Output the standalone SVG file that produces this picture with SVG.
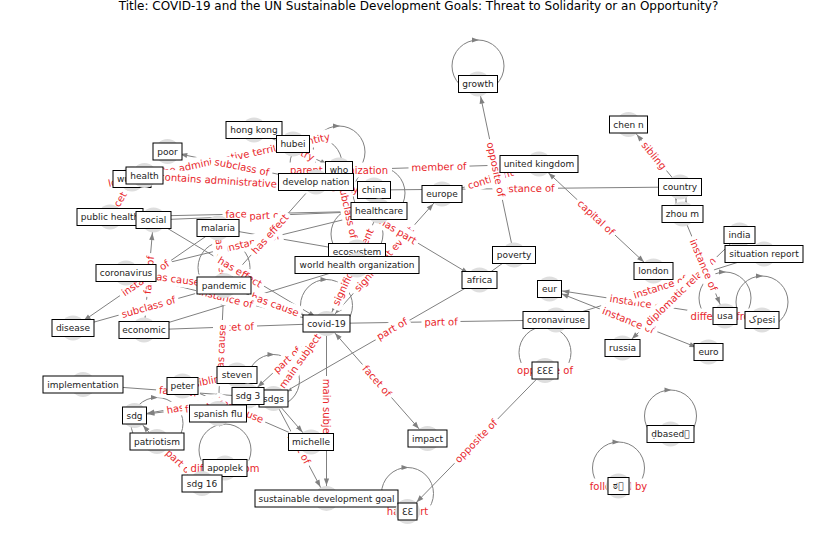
<svg xmlns="http://www.w3.org/2000/svg" width="837" height="559" viewBox="0 0 837 559">
<style>
  .e { stroke: #808080; stroke-width: 1; fill: none; }
  .loop { stroke: #808080; stroke-width: 1; fill: none; }
  .lh { fill: #808080; }
  .el rect { fill: #ffffff; }
  .el text { font-family: "DejaVu Sans", sans-serif; font-size: 10px; fill: #e8262b; text-anchor: middle; }
  .node circle { fill: #dedede; }
  .node rect { fill: #ffffff; stroke: #000000; stroke-width: 1; }
  .node text { font-family: "DejaVu Sans", sans-serif; font-size: 9px; fill: #222222; text-anchor: middle; }
  .title { font-family: "DejaVu Sans", sans-serif; font-size: 12px; fill: #000000; text-anchor: middle; }
</style>
<defs>
  <marker id="ah" viewBox="-22 -5 22 10" refX="0" refY="0" markerWidth="22" markerHeight="10" markerUnits="userSpaceOnUse" orient="auto-start-reverse">
    <path d="M-13,0 L-20,-2.6 L-20,2.6 Z" fill="#808080"/>
  </marker>
</defs>
<rect width="837" height="559" fill="#ffffff"/>
<text class="title" x="418.5" y="10">Title: COVID-19 and the UN Sustainable Development Goals: Threat to Solidarity or an Opportunity?</text>

<!-- connectors -->
<g id="connectors">
  <line class="e" x1="514" y1="255" x2="478" y2="84" marker-end="url(#ah)"/>
  <line class="e" x1="680" y1="187" x2="628.5" y2="124.5" marker-end="url(#ah)"/>
  <line class="e" x1="653.5" y1="271" x2="539" y2="164" marker-start="url(#ah)" marker-end="url(#ah)"/>
  <line class="e" x1="676" y1="187" x2="676" y2="214" marker-end="url(#ah)"/>
  <line class="e" x1="686" y1="214" x2="686" y2="187" marker-end="url(#ah)"/>
  <line class="e" x1="682.5" y1="214" x2="725" y2="316" marker-end="url(#ah)"/>
  <line class="e" x1="739.5" y1="235" x2="622.5" y2="348" marker-end="url(#ah)"/>
  <line class="e" x1="556" y1="320" x2="764" y2="254" marker-end="url(#ah)"/>
  <line class="e" x1="725" y1="316" x2="549.5" y2="289" marker-end="url(#ah)"/>
  <line class="e" x1="708.5" y1="352" x2="549.5" y2="289" marker-start="url(#ah)" marker-end="url(#ah)"/>
  <line class="e" x1="556" y1="320" x2="326.5" y2="323.5" marker-end="url(#ah)"/>
  <line class="e" x1="479.5" y1="280" x2="273.5" y2="398.5" marker-end="url(#ah)"/>
  <line class="e" x1="326.5" y1="323.5" x2="427.5" y2="438.5" marker-start="url(#ah)" marker-end="url(#ah)"/>
  <line class="e" x1="326.5" y1="323.5" x2="326.5" y2="498.5" marker-end="url(#ah)"/>
  <line class="e" x1="545" y1="370.5" x2="407.5" y2="511.5" marker-end="url(#ah)"/>
  <line class="e" x1="273.5" y1="398.5" x2="326.5" y2="498.5" marker-end="url(#ah)"/>
  <line class="e" x1="273.5" y1="398.5" x2="311" y2="442" marker-end="url(#ah)"/>
  <line class="e" x1="182.5" y1="386" x2="311" y2="442" marker-end="url(#ah)"/>
  <line class="e" x1="248" y1="396" x2="326.5" y2="323.5" marker-start="url(#ah)" marker-end="url(#ah)"/>
  <line class="e" x1="273.5" y1="398.5" x2="326.5" y2="323.5" marker-end="url(#ah)"/>
  <line class="e" x1="248" y1="396" x2="134.5" y2="415.5" marker-end="url(#ah)"/>
  <line class="e" x1="273.5" y1="398.5" x2="134.5" y2="415.5" marker-end="url(#ah)"/>
  <line class="e" x1="182.5" y1="386" x2="237" y2="375"/>
  <line class="e" x1="83" y1="384.5" x2="273.5" y2="398.5" marker-end="url(#ah)"/>
  <line class="e" x1="157" y1="441.5" x2="202" y2="483.5" marker-end="url(#ah)"/>
  <line class="e" x1="157" y1="441.5" x2="134.5" y2="415.5" marker-end="url(#ah)"/>
  <line class="e" x1="224" y1="285.5" x2="218" y2="413.5" marker-start="url(#ah)" marker-end="url(#ah)"/>
  <line class="e" x1="218" y1="228" x2="224" y2="285.5" marker-end="url(#ah)"/>
  <line class="e" x1="126" y1="273" x2="224" y2="285.5" marker-end="url(#ah)"/>
  <line class="e" x1="218" y1="228" x2="73" y2="328" marker-end="url(#ah)"/>
  <line class="e" x1="153.5" y1="220" x2="144" y2="330" marker-start="url(#ah)" marker-end="url(#ah)"/>
  <line class="e" x1="73" y1="328" x2="224" y2="285.5" marker-end="url(#ah)"/>
  <line class="e" x1="144" y1="330" x2="326.5" y2="323.5" marker-end="url(#ah)"/>
  <line class="e" x1="126" y1="273" x2="326.5" y2="323.5" marker-end="url(#ah)"/>
  <line class="e" x1="224" y1="285.5" x2="326.5" y2="323.5" marker-end="url(#ah)"/>
  <line class="e" x1="153.5" y1="220" x2="326.5" y2="323.5" marker-end="url(#ah)"/>
  <line class="e" x1="316" y1="182" x2="224" y2="285.5" marker-end="url(#ah)"/>
  <line class="e" x1="110" y1="217" x2="379" y2="211" marker-end="url(#ah)"/>
  <line class="e" x1="153.5" y1="220" x2="379" y2="211" marker-end="url(#ah)"/>
  <line class="e" x1="126" y1="273" x2="379" y2="211" marker-end="url(#ah)"/>
  <line class="e" x1="144" y1="330" x2="357" y2="265" marker-end="url(#ah)"/>
  <line class="e" x1="379" y1="211" x2="326.5" y2="323.5" marker-end="url(#ah)"/>
  <line class="e" x1="442" y1="194" x2="326.5" y2="323.5" marker-start="url(#ah)" marker-end="url(#ah)"/>
  <line class="e" x1="316" y1="182" x2="479.5" y2="280" marker-end="url(#ah)"/>
  <line class="e" x1="374" y1="190" x2="680" y2="187" marker-end="url(#ah)"/>
  <line class="e" x1="339" y1="170" x2="539" y2="164" marker-end="url(#ah)"/>
  <line class="e" x1="539" y1="164" x2="442" y2="194" marker-end="url(#ah)"/>
  <line class="e" x1="316" y1="182" x2="167.5" y2="151.5" marker-end="url(#ah)"/>
  <line class="e" x1="144.5" y1="175.5" x2="374" y2="190" marker-end="url(#ah)"/>
  <line class="e" x1="144.5" y1="175.5" x2="293" y2="144" marker-end="url(#ah)"/>
  <line class="e" x1="132" y1="179" x2="110" y2="217" marker-end="url(#ah)"/>
  <line class="e" x1="254" y1="130" x2="339" y2="170" marker-end="url(#ah)"/>
  <line class="e" x1="339" y1="170" x2="357" y2="252" marker-end="url(#ah)"/>
  <line class="e" x1="218" y1="228" x2="357" y2="252" marker-end="url(#ah)"/>
  <line class="e" x1="479.5" y1="280" x2="514" y2="255"/>

  <!-- self-loops: circle above the node, arrowhead at the top -->
  <circle class="loop" cx="478" cy="66" r="26"/><path class="lh" d="M479,40 l-7,-2.6 v5.2 z"/>
  <circle class="loop" cx="339" cy="152" r="26"/><path class="lh" d="M340,126 l-7,-2.6 v5.2 z"/>
  <circle class="loop" cx="316" cy="164" r="26"/><path class="lh" d="M317,138 l-7,-2.6 v5.2 z"/>
  <circle class="loop" cx="379" cy="193" r="26"/><path class="lh" d="M380,167 l-7,-2.6 v5.2 z"/>
  <circle class="loop" cx="357" cy="234" r="26"/><path class="lh" d="M358,208 l-7,-2.6 v5.2 z"/>
  <circle class="loop" cx="224" cy="267.5" r="26"/><path class="lh" d="M225,241.5 l-7,-2.6 v5.2 z"/>
  <circle class="loop" cx="326.5" cy="305.5" r="26"/><path class="lh" d="M327.5,279.5 l-7,-2.6 v5.2 z"/>
  <circle class="loop" cx="273.5" cy="380.5" r="26"/><path class="lh" d="M274.5,354.5 l-7,-2.6 v5.2 z"/>
  <circle class="loop" cx="157" cy="423.5" r="26"/><path class="lh" d="M158,397.5 l-7,-2.6 v5.2 z"/>
  <circle class="loop" cx="225" cy="450" r="26"/><path class="lh" d="M226,424 l-7,-2.6 v5.2 z"/>
  <circle class="loop" cx="545" cy="352.5" r="26"/><path class="lh" d="M546,326.5 l-7,-2.6 v5.2 z"/>
  <circle class="loop" cx="407.5" cy="493.5" r="26"/><path class="lh" d="M408.5,467.5 l-7,-2.6 v5.2 z"/>
  <circle class="loop" cx="618.5" cy="468" r="26"/><path class="lh" d="M619.5,442 l-7,-2.6 v5.2 z"/>
  <circle class="loop" cx="670.5" cy="416" r="26"/><path class="lh" d="M671.5,390 l-7,-2.6 v5.2 z"/>
  <circle class="loop" cx="725" cy="298" r="26"/><path class="lh" d="M726,272 l-7,-2.6 v5.2 z"/>
  <circle class="loop" cx="762" cy="302" r="26"/><path class="lh" d="M763,276 l-7,-2.6 v5.2 z"/>
</g>

<!-- edge labels -->
<g id="edge-labels">
  <g class="el" transform="translate(219,160) rotate(-12)"><rect x="-116" y="-7.5" width="232" height="15" rx="3"/><text y="3.5">located in the administrative territorial entity</text></g>
  <g class="el" transform="translate(259,183) rotate(3.6)"><rect x="-103" y="-7.5" width="206" height="15" rx="3"/><text y="3.5">contains administrative territorial entity</text></g>
  <g class="el" transform="translate(242,167) rotate(11.5)"><rect x="-31" y="-7.5" width="62" height="15" rx="3"/><text y="3.5">subclass of</text></g>
  <g class="el" transform="translate(296.5,150) rotate(25.2)"><rect x="-22" y="-7.5" width="44" height="15" rx="3"/><text y="3.5">country</text></g>
  <g class="el" transform="translate(121,198) rotate(-60)"><rect x="-22" y="-7.5" width="44" height="15" rx="3"/><text y="3.5">facet of</text></g>
  <g class="el" transform="translate(348,211) rotate(77.6)"><rect x="-31" y="-7.5" width="62" height="15" rx="3"/><text y="3.5">subclass of</text></g>
  <g class="el" transform="translate(252.5,242) rotate(-13.8)"><rect x="-31" y="-7.5" width="62" height="15" rx="3"/><text y="3.5">instance of</text></g>
  <g class="el" transform="translate(244.5,214) rotate(-1.3)"><rect x="-22" y="-7.5" width="44" height="15" rx="3"/><text y="3.5">facet of</text></g>
  <g class="el" transform="translate(266,215.5) rotate(-2.3)"><rect x="-19.5" y="-7.5" width="39" height="15" rx="3"/><text y="3.5">part of</text></g>
  <g class="el" transform="translate(270,234) rotate(-48.2)"><rect x="-28" y="-7.5" width="56" height="15" rx="3"/><text y="3.5">has effect</text></g>
  <g class="el" transform="translate(221,257) rotate(84)"><rect x="-28" y="-7.5" width="56" height="15" rx="3"/><text y="3.5">has effect</text></g>
  <g class="el" transform="translate(240,272) rotate(31)"><rect x="-28" y="-7.5" width="56" height="15" rx="3"/><text y="3.5">has effect</text></g>
  <g class="el" transform="translate(149,275) rotate(-85)"><rect x="-22" y="-7.5" width="44" height="15" rx="3"/><text y="3.5">facet of</text></g>
  <g class="el" transform="translate(145.5,278) rotate(-34.6)"><rect x="-31" y="-7.5" width="62" height="15" rx="3"/><text y="3.5">instance of</text></g>
  <g class="el" transform="translate(175,279) rotate(7.3)"><rect x="-28" y="-7.5" width="56" height="15" rx="3"/><text y="3.5">has cause</text></g>
  <g class="el" transform="translate(148.5,307) rotate(-15.7)"><rect x="-31" y="-7.5" width="62" height="15" rx="3"/><text y="3.5">subclass of</text></g>
  <g class="el" transform="translate(275,304.5) rotate(20.4)"><rect x="-28" y="-7.5" width="56" height="15" rx="3"/><text y="3.5">has cause</text></g>
  <g class="el" transform="translate(226,298) rotate(14.2)"><rect x="-31" y="-7.5" width="62" height="15" rx="3"/><text y="3.5">instance of</text></g>
  <g class="el" transform="translate(235,327) rotate(-2)"><rect x="-22" y="-7.5" width="44" height="15" rx="3"/><text y="3.5">facet of</text></g>
  <g class="el" transform="translate(221,349.5) rotate(-87.3)"><rect x="-28" y="-7.5" width="56" height="15" rx="3"/><text y="3.5">has cause</text></g>
  <g class="el" transform="translate(353,267) rotate(-64.8)"><rect x="-46" y="-7.5" width="92" height="15" rx="3"/><text y="3.5">significant event</text></g>
  <g class="el" transform="translate(384,259) rotate(-48.1)"><rect x="-46" y="-7.5" width="92" height="15" rx="3"/><text y="3.5">significant event</text></g>
  <g class="el" transform="translate(398,231) rotate(31)"><rect x="-23.5" y="-7.5" width="47" height="15" rx="3"/><text y="3.5">has part</text></g>
  <g class="el" transform="translate(527,188.5) rotate(-0.6)"><rect x="-31" y="-7.5" width="62" height="15" rx="3"/><text y="3.5">instance of</text></g>
  <g class="el" transform="translate(490.5,179) rotate(-17.2)"><rect x="-27" y="-7.5" width="54" height="15" rx="3"/><text y="3.5">continent</text></g>
  <g class="el" transform="translate(439,167) rotate(-1.7)"><rect x="-30.5" y="-7.5" width="61" height="15" rx="3"/><text y="3.5">member of</text></g>
  <g class="el" transform="translate(496,169.5) rotate(78.1)"><rect x="-31" y="-7.5" width="62" height="15" rx="3"/><text y="3.5">opposite of</text></g>
  <g class="el" transform="translate(339,170)"><rect x="-53" y="-7.5" width="106" height="15" rx="3"/><text y="3.5">parent organization</text></g>
  <g class="el" transform="translate(654,155.5) rotate(50.5)"><rect x="-19.5" y="-7.5" width="39" height="15" rx="3"/><text y="3.5">sibling</text></g>
  <g class="el" transform="translate(596,217.5) rotate(43.2)"><rect x="-26" y="-7.5" width="52" height="15" rx="3"/><text y="3.5">capital of</text></g>
  <g class="el" transform="translate(637,302.5) rotate(8.7)"><rect x="-31" y="-7.5" width="62" height="15" rx="3"/><text y="3.5">instance of</text></g>
  <g class="el" transform="translate(628.5,320.5) rotate(21.6)"><rect x="-31" y="-7.5" width="62" height="15" rx="3"/><text y="3.5">instance of</text></g>
  <g class="el" transform="translate(660,287) rotate(-17.6)"><rect x="-31" y="-7.5" width="62" height="15" rx="3"/><text y="3.5">instance of</text></g>
  <g class="el" transform="translate(680.5,291.5) rotate(-44)"><rect x="-50" y="-7.5" width="100" height="15" rx="3"/><text y="3.5">diplomatic relation</text></g>
  <g class="el" transform="translate(703.5,265) rotate(67.1)"><rect x="-31" y="-7.5" width="62" height="15" rx="3"/><text y="3.5">instance of</text></g>
  <g class="el" transform="translate(725,316)"><rect x="-38" y="-7.5" width="76" height="15" rx="3"/><text y="3.5">different from</text></g>
  <g class="el" transform="translate(441,322) rotate(-0.9)"><rect x="-19.5" y="-7.5" width="39" height="15" rx="3"/><text y="3.5">part of</text></g>
  <g class="el" transform="translate(392,329) rotate(-30.1)"><rect x="-19.5" y="-7.5" width="39" height="15" rx="3"/><text y="3.5">part of</text></g>
  <g class="el" transform="translate(377,381) rotate(48.7)"><rect x="-22" y="-7.5" width="44" height="15" rx="3"/><text y="3.5">facet of</text></g>
  <g class="el" transform="translate(326.5,411) rotate(90)"><rect x="-35" y="-7.5" width="70" height="15" rx="3"/><text y="3.5">main subject</text></g>
  <g class="el" transform="translate(476,441) rotate(-45.7)"><rect x="-31" y="-7.5" width="62" height="15" rx="3"/><text y="3.5">opposite of</text></g>
  <g class="el" transform="translate(545,370.5)"><rect x="-31" y="-7.5" width="62" height="15" rx="3"/><text y="3.5">opposite of</text></g>
  <g class="el" transform="translate(300,448.5) rotate(62)"><rect x="-19.5" y="-7.5" width="39" height="15" rx="3"/><text y="3.5">part of</text></g>
  <g class="el" transform="translate(240,410) rotate(23.5)"><rect x="-28" y="-7.5" width="56" height="15" rx="3"/><text y="3.5">has cause</text></g>
  <g class="el" transform="translate(287,360) rotate(-42.7)"><rect x="-19.5" y="-7.5" width="39" height="15" rx="3"/><text y="3.5">part of</text></g>
  <g class="el" transform="translate(300,361) rotate(-54.6)"><rect x="-35" y="-7.5" width="70" height="15" rx="3"/><text y="3.5">main subject</text></g>
  <g class="el" transform="translate(191,406) rotate(-9.8)"><rect x="-28" y="-7.5" width="56" height="15" rx="3"/><text y="3.5">has effect</text></g>
  <g class="el" transform="translate(204,407) rotate(-7)"><rect x="-22" y="-7.5" width="44" height="15" rx="3"/><text y="3.5">facet of</text></g>
  <g class="el" transform="translate(178,391.5) rotate(4.2)"><rect x="-22" y="-7.5" width="44" height="15" rx="3"/><text y="3.5">facet of</text></g>
  <g class="el" transform="translate(210,380.5) rotate(-11.4)"><rect x="-19.5" y="-7.5" width="39" height="15" rx="3"/><text y="3.5">sibling</text></g>
  <g class="el" transform="translate(179.5,462.5) rotate(43)"><rect x="-19.5" y="-7.5" width="39" height="15" rx="3"/><text y="3.5">part of</text></g>
  <g class="el" transform="translate(225,468)"><rect x="-38" y="-7.5" width="76" height="15" rx="3"/><text y="3.5">different from</text></g>
  <g class="el" transform="translate(407.5,511.5)"><rect x="-23.5" y="-7.5" width="47" height="15" rx="3"/><text y="3.5">has part</text></g>
  <g class="el" transform="translate(618.5,486)"><rect x="-32" y="-7.5" width="64" height="15" rx="3"/><text y="3.5">followed by</text></g>
</g>

<!-- nodes -->
<g id="nodes">
  <g id="n-growth" class="node"><circle cx="478" cy="84" r="12.5"/><rect x="458.5" y="75.5" width="39" height="17"/><text x="478" y="87.3">growth</text></g>
  <g id="n-chen-n" class="node"><circle cx="628.5" cy="124.5" r="12.5"/><rect x="609.5" y="116" width="38" height="17"/><text x="628.5" y="127.8">chen n</text></g>
  <g id="n-united-kingdom" class="node"><circle cx="539" cy="164" r="12.5"/><rect x="500" y="155.5" width="78" height="17"/><text x="539" y="167.3">united kingdom</text></g>
  <g id="n-hong-kong" class="node"><circle cx="254" cy="130" r="12.5"/><rect x="226" y="121.5" width="56" height="17"/><text x="254" y="133.3">hong kong</text></g>
  <g id="n-hubei" class="node"><circle cx="293" cy="144" r="12.5"/><rect x="276.5" y="135.5" width="33" height="17"/><text x="293" y="147.3">hubei</text></g>
  <g id="n-poor" class="node"><circle cx="167.5" cy="151.5" r="12.5"/><rect x="153" y="143" width="29" height="17"/><text x="167.5" y="154.8">poor</text></g>
  <g id="n-who" class="node"><circle cx="339" cy="170" r="12.5"/><rect x="325.5" y="161.5" width="27" height="17"/><text x="339" y="173.3">who</text></g>
  <g id="n-wuhan" class="node"><circle cx="132" cy="179" r="12.5"/><rect x="113" y="170.5" width="38" height="17"/><text x="132" y="182.3">wuhan</text></g>
  <g id="n-health" class="node"><circle cx="144.5" cy="175.5" r="12.5"/><rect x="126" y="167" width="37" height="17"/><text x="144.5" y="178.8">health</text></g>
  <g id="n-develop-nation" class="node"><circle cx="316" cy="182" r="12.5"/><rect x="278.5" y="173.5" width="75" height="17"/><text x="316" y="185.3">develop nation</text></g>
  <g id="n-china" class="node"><circle cx="374" cy="190" r="12.5"/><rect x="357.5" y="181.5" width="33" height="17"/><text x="374" y="193.3">china</text></g>
  <g id="n-europe" class="node"><circle cx="442" cy="194" r="12.5"/><rect x="422" y="185.5" width="40" height="17"/><text x="442" y="197.3">europe</text></g>
  <g id="n-country" class="node"><circle cx="680" cy="187" r="12.5"/><rect x="658.5" y="178.5" width="43" height="17"/><text x="680" y="190.3">country</text></g>
  <g id="n-zhou-m" class="node"><circle cx="682.5" cy="214" r="12.5"/><rect x="662" y="205.5" width="41" height="17"/><text x="682.5" y="217.3">zhou m</text></g>
  <g id="n-healthcare" class="node"><circle cx="379" cy="211" r="12.5"/><rect x="351" y="202.5" width="56" height="17"/><text x="379" y="214.3">healthcare</text></g>
  <g id="n-public-health" class="node"><circle cx="110" cy="217" r="12.5"/><rect x="77" y="208.5" width="66" height="17"/><text x="110" y="220.3">public health</text></g>
  <g id="n-social" class="node"><circle cx="153.5" cy="220" r="12.5"/><rect x="136" y="211.5" width="35" height="17"/><text x="153.5" y="223.3">social</text></g>
  <g id="n-malaria" class="node"><circle cx="218" cy="228" r="12.5"/><rect x="197" y="219.5" width="42" height="17"/><text x="218" y="231.3">malaria</text></g>
  <g id="n-india" class="node"><circle cx="739.5" cy="235" r="12.5"/><rect x="724" y="226.5" width="31" height="17"/><text x="739.5" y="238.3">india</text></g>
  <g id="n-ecosystem" class="node"><circle cx="357" cy="252" r="12.5"/><rect x="328.5" y="243.5" width="57" height="17"/><text x="357" y="255.3">ecosystem</text></g>
  <g id="n-situation-report" class="node"><circle cx="764" cy="254" r="12.5"/><rect x="725" y="245.5" width="78" height="17"/><text x="764" y="257.3">situation report</text></g>
  <g id="n-poverty" class="node"><circle cx="514" cy="255" r="12.5"/><rect x="492.5" y="246.5" width="43" height="17"/><text x="514" y="258.3">poverty</text></g>
  <g id="n-world-health-organization" class="node"><circle cx="357" cy="265" r="12.5"/><rect x="295" y="256.5" width="124" height="17"/><text x="357" y="268.3">world health organization</text></g>
  <g id="n-coronavirus" class="node"><circle cx="126" cy="273" r="12.5"/><rect x="96" y="264.5" width="60" height="17"/><text x="126" y="276.3">coronavirus</text></g>
  <g id="n-london" class="node"><circle cx="653.5" cy="271" r="12.5"/><rect x="634" y="262.5" width="39" height="17"/><text x="653.5" y="274.3">london</text></g>
  <g id="n-africa" class="node"><circle cx="479.5" cy="280" r="12.5"/><rect x="462" y="271.5" width="35" height="17"/><text x="479.5" y="283.3">africa</text></g>
  <g id="n-pandemic" class="node"><circle cx="224" cy="285.5" r="12.5"/><rect x="197" y="277" width="54" height="17"/><text x="224" y="288.8">pandemic</text></g>
  <g id="n-eur" class="node"><circle cx="549.5" cy="289" r="12.5"/><rect x="537.5" y="280.5" width="24" height="17"/><text x="549.5" y="292.3">eur</text></g>
  <g id="n-coronaviruse" class="node"><circle cx="556" cy="320" r="12.5"/><rect x="523" y="311.5" width="66" height="17"/><text x="556" y="323.3">coronaviruse</text></g>
  <g id="n-usa" class="node"><circle cx="725" cy="316" r="12.5"/><rect x="713" y="307.5" width="24" height="17"/><text x="725" y="319.3">usa</text></g>
  <g id="n-kpesi" class="node"><circle cx="762" cy="320" r="12.5"/><rect x="745" y="311.5" width="34" height="17"/><text x="762" y="323.3">کpesi</text></g>
  <g id="n-disease" class="node"><circle cx="73" cy="328" r="12.5"/><rect x="52" y="319.5" width="42" height="17"/><text x="73" y="331.3">disease</text></g>
  <g id="n-economic" class="node"><circle cx="144" cy="330" r="12.5"/><rect x="119" y="321.5" width="50" height="17"/><text x="144" y="333.3">economic</text></g>
  <g id="n-covid-19" class="node"><circle cx="326.5" cy="323.5" r="12.5"/><rect x="303" y="315" width="47" height="17"/><text x="326.5" y="326.8">covid-19</text></g>
  <g id="n-russia" class="node"><circle cx="622.5" cy="348" r="12.5"/><rect x="605" y="339.5" width="35" height="17"/><text x="622.5" y="351.3">russia</text></g>
  <g id="n-euro" class="node"><circle cx="708.5" cy="352" r="12.5"/><rect x="694" y="343.5" width="29" height="17"/><text x="708.5" y="355.3">euro</text></g>
  <g id="n-eee" class="node"><circle cx="545" cy="370.5" r="12.5"/><rect x="532" y="362" width="26" height="17"/><text x="545" y="373.8">ƐƐƐ</text></g>
  <g id="n-implementation" class="node"><circle cx="83" cy="384.5" r="12.5"/><rect x="43" y="376" width="80" height="17"/><text x="83" y="387.8">implementation</text></g>
  <g id="n-steven" class="node"><circle cx="237" cy="375" r="12.5"/><rect x="217" y="366.5" width="40" height="17"/><text x="237" y="378.3">steven</text></g>
  <g id="n-peter" class="node"><circle cx="182.5" cy="386" r="12.5"/><rect x="167" y="377.5" width="31" height="17"/><text x="182.5" y="389.3">peter</text></g>
  <g id="n-sdgs" class="node"><circle cx="273.5" cy="398.5" r="12.5"/><rect x="259" y="390" width="29" height="17"/><text x="273.5" y="401.8">sdgs</text></g>
  <g id="n-sdg-3" class="node"><circle cx="248" cy="396" r="12.5"/><rect x="232" y="387.5" width="32" height="17"/><text x="248" y="399.3">sdg 3</text></g>
  <g id="n-spanish-flu" class="node"><circle cx="218" cy="413.5" r="12.5"/><rect x="189.5" y="405" width="57" height="17"/><text x="218" y="416.8">spanish flu</text></g>
  <g id="n-sdg" class="node"><circle cx="134.5" cy="415.5" r="12.5"/><rect x="122.5" y="407" width="24" height="17"/><text x="134.5" y="418.8">sdg</text></g>
  <g id="n-patriotism" class="node"><circle cx="157" cy="441.5" r="12.5"/><rect x="130" y="433" width="54" height="17"/><text x="157" y="444.8">patriotism</text></g>
  <g id="n-michelle" class="node"><circle cx="311" cy="442" r="12.5"/><rect x="288.5" y="433.5" width="45" height="17"/><text x="311" y="445.3">michelle</text></g>
  <g id="n-impact" class="node"><circle cx="427.5" cy="438.5" r="12.5"/><rect x="408" y="430" width="39" height="17"/><text x="427.5" y="441.8">impact</text></g>
  <g id="n-dbased" class="node"><circle cx="670.5" cy="434" r="12.5"/><rect x="647" y="425.5" width="47" height="17"/><text x="670.5" y="437.3">ḍbased&#xE000;</text></g>
  <g id="n-apoplek" class="node"><circle cx="225" cy="468" r="12.5"/><rect x="203" y="459.5" width="44" height="17"/><text x="225" y="471.3">apoplek</text></g>
  <g id="n-sdg-16" class="node"><circle cx="202" cy="483.5" r="12.5"/><rect x="182" y="475" width="40" height="17"/><text x="202" y="486.8">sdg 16</text></g>
  <g id="n-sustainable-development-goal" class="node"><circle cx="326.5" cy="498.5" r="12.5"/><rect x="255" y="490" width="143" height="17"/><text x="326.5" y="501.8">sustainable development goal</text></g>
  <g id="n-ee" class="node"><circle cx="407.5" cy="511.5" r="12.5"/><rect x="398" y="503" width="19" height="17"/><text x="407.5" y="514.8">ƐƐ</text></g>
  <g id="n-tha" class="node"><circle cx="618.5" cy="486" r="12.5"/><rect x="608" y="477.5" width="21" height="17"/><text x="618.5" y="489.3">ಠ&#xE000;</text></g>
</g>
</svg>
